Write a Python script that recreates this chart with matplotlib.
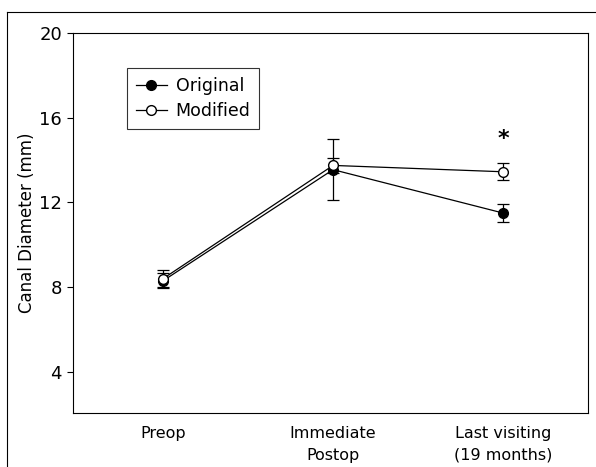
import numpy as np
import matplotlib.pyplot as plt
from matplotlib.lines import Line2D

# === Daten ===
stages = ["Preop", "Immediate\nPostop", "Last visiting\n(19 months)"]
original_mean = [8.3, 13.55, 11.5]
original_err = [0.35, 1.45, 0.42]
modified_mean = [8.4, 13.75, 13.45]
modified_err = [0.4, 0.35, 0.4]
yticks = [4, 8, 12, 16, 20]

x = np.arange(len(stages))

fig = plt.figure(figsize=(5.96, 4.67), dpi=100)
ax = fig.add_axes([0.1225, 0.1156, 0.8641, 0.8134])

ax.errorbar(x, original_mean, yerr=original_err, color="black", lw=0.9,
            marker="o", ms=7, mfc="black", mec="black", capsize=4,
            elinewidth=0.9, capthick=0.9, label="Original", zorder=3)
ax.errorbar(x, modified_mean, yerr=modified_err, color="black", lw=0.9,
            marker="o", ms=7, mfc="white", mec="black", capsize=4,
            elinewidth=0.9, capthick=0.9, label="Modified", zorder=4)

# Signifikanz
ax.text(x[2], 15.0, "*", ha="center", va="center", fontsize=16, fontweight="bold")

ax.set_xlim(-0.53, 2.5)
ax.set_ylim(2.05, 20)
ax.set_yticks(yticks)
ax.set_yticklabels([str(t) for t in yticks], fontsize=13)
ax.set_xticks(x)
ax.set_xticklabels(stages, fontsize=11.5, linespacing=1.6)
ax.tick_params(axis="x", length=0, pad=9)
ax.tick_params(axis="y", length=4, width=0.8, direction="out", pad=4)
ax.set_ylabel("Canal Diameter (mm)", fontsize=12, labelpad=2)
for s in ax.spines.values():
    s.set_linewidth(0.8)

handles = [
    Line2D([], [], color="black", lw=0.9, marker="o", ms=7, mfc="black", mec="black"),
    Line2D([], [], color="black", lw=0.9, marker="o", ms=7, mfc="white", mec="black"),
]
leg = ax.legend(handles, ["Original", "Modified"], loc="upper left",
                bbox_to_anchor=(0.088, 0.93), fontsize=12.5, frameon=True,
                fancybox=False, edgecolor="black", handlelength=1.8,
                handletextpad=0.5, borderpad=0.5, labelspacing=0.4)
leg.get_frame().set_linewidth(0.8)

# Rahmen vom Scan
fig.add_artist(Line2D([0.012, 0.012], [0.0, 0.975], color="black", lw=0.8))
fig.add_artist(Line2D([0.012, 1.0], [0.975, 0.975], color="black", lw=0.8))

plt.savefig("out.png", dpi=100)
plt.close()
